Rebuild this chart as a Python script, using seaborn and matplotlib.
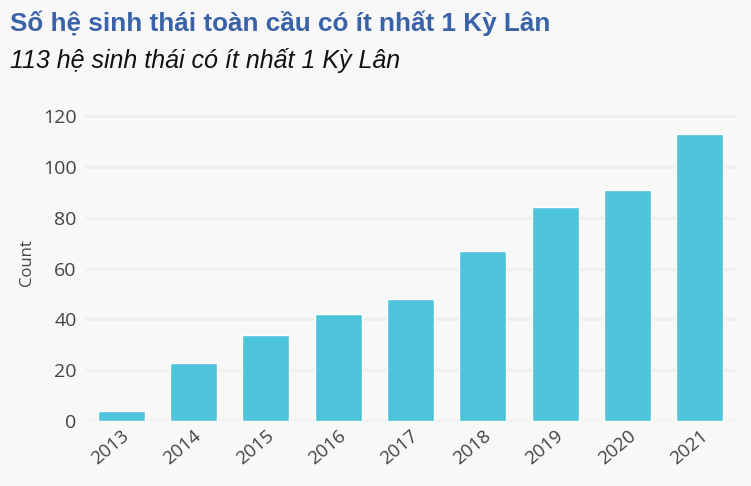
import pandas as pd
import matplotlib.pyplot as plt
import seaborn as sns

# Dữ liệu
years = ['2013', '2014', '2015', '2016', '2017', '2018', '2019', '2020', '2021']
counts = [4, 23, 34, 42, 48, 67, 84, 91, 113]

df = pd.DataFrame({'Year': years, 'Count': counts})

sns.set_theme(style='whitegrid')
plt.rcParams['font.family'] = ['Open Sans', 'DejaVu Sans']

bg = '#f8f8f8'
fig = plt.figure(figsize=(7.51, 4.86), dpi=100, facecolor=bg)
ax = fig.add_axes([0.113, 0.133, 0.867, 0.655])
ax.set_facecolor(bg)

sns.barplot(data=df, x='Year', y='Count', color='#4dc4d9', saturation=1,
            width=0.65, ax=ax)

ax.set_ylim(0, 125)
ax.set_yticks(range(0, 121, 20))
ax.set_xlabel('')
ax.set_ylabel('Count', fontsize=12, color='#444444', labelpad=6)
ax.tick_params(axis='y', labelsize=14, colors='#444444', pad=6, length=0)
ax.tick_params(axis='x', labelsize=13.5, colors='#444444', pad=4, length=0)
plt.setp(ax.get_xticklabels(), rotation=40, ha='right', rotation_mode='anchor')
ax.grid(axis='y', color='#efefef', linewidth=2)
ax.grid(axis='x', visible=False)
for s in ax.spines.values():
    s.set_visible(False)
ax.axhline(0, color='#e6e6e6', linewidth=1.5, zorder=0)

fig.text(0.013, 0.953, 'Số hệ sinh thái toàn cầu có ít nhất 1 Kỳ Lân',
         fontsize=18.8, fontweight='bold', color='#3a62a8',
         family=['Liberation Sans', 'DejaVu Sans'], va='center')
fig.text(0.013, 0.875, '113 hệ sinh thái có ít nhất 1 Kỳ Lân',
         fontsize=18, fontstyle='italic', color='#111111',
         family=['Liberation Sans', 'DejaVu Sans'], va='center')

fig.savefig('out.png', dpi=100, facecolor=bg)
